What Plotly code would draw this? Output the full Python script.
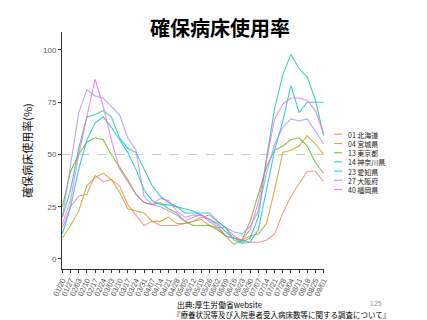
import plotly.graph_objects as go

dates = ["01/20", "01/27", "02/03", "02/10", "02/17", "02/24", "03/03", "03/10", "03/17",
         "03/24", "03/31", "04/07", "04/14", "04/21", "04/28", "05/05", "05/12", "05/19",
         "05/26", "06/02", "06/09", "06/16", "06/23", "06/30", "07/07", "07/14", "07/21",
         "07/28", "08/04", "08/11", "08/18", "08/25", "09/01"]

hokkaido = [15, 25, 30, 31, 40, 37, 38, 35, 26, 21, 16, 18, 16, 16, 16, 17, 18, 20, 21, 18, 15, 11, 9, 8, 8, 9, 12, 22, 30, 36, 42, 42, 37]
miyagi = [10, 16, 23, 35, 39, 41, 38, 32, 24, 23, 22, 18, 18, 20, 17, 17, 18, 19, 16, 15, 11, 7, 9, 11, 12, 17, 33, 51, 52, 54, 59, 55, 50]
tokyo = [25, 42, 50, 56, 58, 57, 50, 44, 38, 31, 27, 26, 27, 24, 22, 18, 16, 16, 16, 14, 11, 10, 9, 18, 31, 44, 52, 54, 57, 58, 54, 46, 41]
kanagawa = [20, 33, 53, 68, 69, 71, 68, 58, 53, 51, 43, 35, 30, 27, 25, 24, 23, 21, 19, 17, 13, 10, 8, 10, 20, 48, 72, 88, 98, 91, 87, 76, 59]
aichi = [12, 25, 43, 57, 65, 68, 63, 57, 51, 43, 33, 28, 26, 26, 25, 22, 22, 22, 22, 18, 15, 9, 7.5, 8, 14, 33, 52, 66, 83, 70, 75, 75, 75]
osaka = [20, 45, 70, 81, 78, 77, 73, 69, 58, 52, 30, 26, 25, 23, 21, 18, 20, 21, 18, 15, 15, 13, 12, 15.5, 23, 41, 55, 63, 67, 66, 67, 61, 55]
fukuoka = [17, 28, 50, 68, 86, 73, 57, 43, 37, 31, 27, 26, 29, 28, 23, 20, 21, 21, 19, 16, 11, 10, 9, 14, 27, 47, 67, 74, 77, 77, 76, 71, 60]

series_names = ["01 北海道", "04 宮城県", "13 東京都", "14 神奈川県", "23 愛知県", "27 大阪府", "40 福岡県"]
series_values = [hokkaido, miyagi, tokyo, kanagawa, aichi, osaka, fukuoka]
colors = ["#F8766D", "#C49A00", "#53B400", "#00C094", "#00B6EB", "#A58AFF", "#FB61D7"]

y_ticks = [0, 25, 50, 75, 100]
reference_line = 50

W, H = 427, 320
ML, MR, MT, MB = 62, 103, 32, 51
PW, PH = W - ML - MR, H - MT - MB

fig = go.Figure()
for name, vals, col in zip(series_names, series_values, colors):
    fig.add_trace(go.Scatter(x=dates, y=vals, mode="lines", name=name,
                             line=dict(color=col, width=1.1), opacity=0.75,
                             showlegend=False))

font_main = "Noto Sans CJK JP"
font_tick = "Liberation Sans, Arial, sans-serif"

shapes = [dict(type="line", xref="paper", yref="y", x0=0, x1=1,
               y0=reference_line, y1=reference_line,
               line=dict(color="#c8c8c8", width=1, dash="dash"), layer="below")]
annotations = []

# manual compact legend
leg_top_px, leg_step_px = 134.3, 9.2
for k, (name, col) in enumerate(zip(series_names, colors)):
    py = leg_top_px + k * leg_step_px
    yp = (H - MB - py) / PH
    shapes.append(dict(type="line", xref="paper", yref="paper",
                       x0=(334 - ML) / PW, x1=(342 - ML) / PW, y0=yp, y1=yp,
                       line=dict(color=col, width=1.2), opacity=0.75))
    annotations.append(dict(text=name, xref="paper", yref="paper",
                            x=(346 - ML) / PW, y=yp, xanchor="left", yanchor="middle",
                            showarrow=False, height=9,
                            font=dict(size=7, color="#222", family=font_main)))

# title
annotations.append(dict(text="<b>確保病床使用率</b>", xref="paper", yref="paper",
                        x=(220 - ML) / PW, y=(H - MB - 27) / PH, xanchor="center", yanchor="middle",
                        showarrow=False, font=dict(size=20, color="#000", family=font_main)))
# footer
annotations.append(dict(text="出典:厚生労働省website", xref="paper", yref="paper",
                        x=(175 - ML) / PW, y=(H - MB - 304) / PH, xanchor="left", yanchor="middle",
                        showarrow=False, font=dict(size=7.8, color="#000", family=font_main)))
annotations.append(dict(text="『療養状況等及び入院患者受入病床数等に関する調査について』", xref="paper", yref="paper",
                        x=(171 - ML) / PW, y=(H - MB - 314.5) / PH, xanchor="left", yanchor="middle",
                        showarrow=False, font=dict(size=7.5, color="#000", family=font_main)))
annotations.append(dict(text="125", xref="paper", yref="paper",
                        x=(376 - ML) / PW, y=(H - MB - 303) / PH, xanchor="center", yanchor="middle",
                        showarrow=False, font=dict(size=7, color="#999", family=font_tick)))

fig.update_layout(
    width=W, height=H,
    margin=dict(l=ML, r=MR, t=MT, b=MB, pad=0),
    paper_bgcolor="white", plot_bgcolor="white",
    font=dict(family=font_main),
    shapes=shapes, annotations=annotations,
    showlegend=False,
)
fig.update_xaxes(type="category", range=[-0.05, len(dates) - 1 + 0.05],
                 tickmode="array", tickvals=dates, ticktext=dates,
                 showline=True, linecolor="#333", linewidth=1,
                 ticks="outside", ticklen=3, tickcolor="#333",
                 tickangle=-65, tickfont=dict(size=7.5, color="#555", family=font_tick),
                 showgrid=False, zeroline=False)
fig.update_yaxes(range=[-4.8, 108.6], tickvals=y_ticks,
                 showline=True, linecolor="#333", linewidth=1,
                 ticks="outside", ticklen=3, tickcolor="#333",
                 tickfont=dict(size=8, color="#555", family=font_tick),
                 title=dict(text="確保病床使用率(%)", font=dict(size=11, color="#111"), standoff=8),
                 showgrid=False, zeroline=False)

fig.write_html("out.html")
